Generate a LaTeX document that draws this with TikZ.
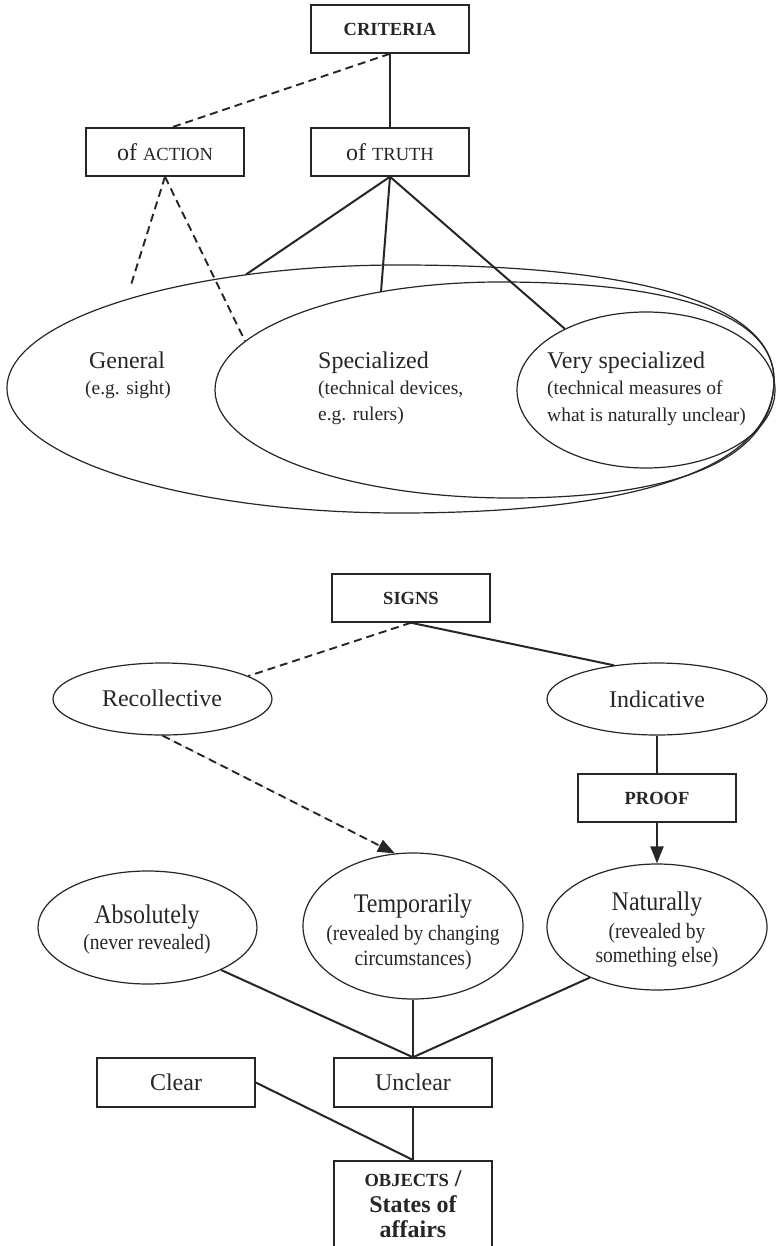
\documentclass[tikz,border=0pt]{standalone}
\usepackage{fontspec}
\setmainfont{Liberation Serif}
\usetikzlibrary{arrows.meta,shapes.geometric}
\newcommand\mainsz{\fontsize{24}{26}\selectfont}
\newcommand\subsz{\fontsize{19.5}{22}\selectfont}
\newcommand\scsz{\fontsize{18.5}{20}\selectfont}
\newcommand\tallt[1]{\scalebox{1}[1.12]{#1}}
\begin{document}
\begin{tikzpicture}[x=1pt,y=-1pt,
  box/.style={draw=black!85,line width=1.5pt,minimum width=158pt,minimum height=48pt,inner sep=0pt,font=\mainsz,text=black!85},
  oval/.style={draw=black!85,ellipse,line width=1.2pt,inner sep=0pt},
  ovalline/.style={draw=black!85,line width=1.2pt},
  conn/.style={draw=black!85,line width=2pt},
  dconn/.style={draw=black!85,line width=1.9pt,dash pattern=on 8pt off 5pt},
  arr/.style={-{Triangle[length=17pt,width=13pt]},fill=black!85},
  txt/.style={inner sep=0pt,anchor=base,font=\mainsz,text=black!85},
  stxt/.style={inner sep=0pt,anchor=base,font=\subsz,text=black!85},
  ]
\useasboundingbox (0,0) rectangle (776,1246);
\clip (0,0) rectangle (776,1246);
\fill[white] (0,0) rectangle (776,1246);

% ---------- upper diagram ----------
\node[box] (crit) at (390,29) {\scsz\bfseries CRITERIA};
\node[box] (truth) at (390,152) {of {\scsz TRUTH}};
\node[box] (action) at (165,152) {of {\scsz ACTION}};

% outer (General) oval
\draw[ovalline] (7,388) .. controls (7,320) and (183,265) .. (400,265)
  .. controls (643,265) and (774,305) .. (774,380)
  .. controls (774,466) and (643,513) .. (400,513)
  .. controls (183,513) and (7,457) .. (7,388) -- cycle;
% middle (Specialized) oval
\draw[ovalline] (215,390) .. controls (215,330) and (343,282) .. (500,282)
  .. controls (678,282) and (774,316) .. (774,380)
  .. controls (774,457) and (682,498) .. (510,498)
  .. controls (347,498) and (215,450) .. (215,390) -- cycle;
% inner (Very specialized) oval
\node[oval,minimum width=258pt,minimum height=156pt] (e3) at (646,390) {};

\coordinate (e1top) at (246,274.5);
\coordinate (e2top) at (381,292);
\coordinate (e2left) at (245,341);
\coordinate (actend) at (130,288);

\draw[conn] (crit.south) -- (truth.north);
\draw[dconn] (crit.south) -- ([xshift=7pt]action.north);
\draw[conn] (truth.south) -- (e1top);
\draw[conn] (truth.south) -- (e2top);
\draw[conn] (truth.south) -- (e3.143.5);
\draw[dconn] (action.south) -- (actend);
\draw[dconn] (action.south) -- (e2left);

\node[txt] (gen1) at (127,368) {General};
\node[stxt] (gen2) at (128,394) {(e.g. sight)};
\node[txt,anchor=base west] (spec1) at (318,368) {Specialized};
\node[stxt,anchor=base west] (spec2) at (318,394) {(technical devices,};
\node[stxt,anchor=base west] (spec3) at (318,420) {e.g. rulers)};
\node[txt,anchor=base west] (very1) at (547,368) {Very specialized};
\node[stxt,anchor=base west] (very2) at (547,394) {(technical measures of};
\node[stxt,anchor=base west] (very3) at (547,421) {what is naturally unclear)};

% ---------- lower diagram ----------
\node[box] (signs) at (411,598) {\scsz\bfseries SIGNS};
\node[oval,minimum width=219pt,minimum height=72pt] (recol) at (162.5,699) {};
\node[txt] (recolt) at (162,706) {Recollective};
\node[oval,minimum width=220pt,minimum height=72pt] (indic) at (657,699) {};
\node[txt] (indict) at (657,707) {Indicative};
\node[box] (proof) at (657,798) {\scsz\bfseries PROOF};

\node[oval,minimum width=219pt,minimum height=113pt] (abs) at (147.5,927.5) {};
\node[txt] (abs1) at (147,923) {\tallt{Absolutely}};
\node[stxt] (abs2) at (147,949) {\tallt{(never revealed)}};
\node[oval,minimum width=220pt,minimum height=146pt] (temp) at (413,926) {};
\node[txt] (temp1) at (413,912) {\tallt{Temporarily}};
\node[stxt] (temp2) at (413,940) {\tallt{(revealed by changing}};
\node[stxt] (temp3) at (413,965) {\tallt{circumstances)}};
\node[oval,minimum width=220pt,minimum height=126pt] (nat) at (657,927) {};
\node[txt] (nat1) at (657,910) {\tallt{Naturally}};
\node[stxt] (nat2) at (657,938) {\tallt{(revealed by}};
\node[stxt] (nat3) at (657,962) {\tallt{something else)}};

\node[box,minimum height=49pt] (clear) at (176,1082.5) {Clear};
\node[box,minimum height=49pt] (unclear) at (413,1082.5) {Unclear};
\node[box,minimum height=100pt,anchor=north] (obj) at (413,1160) {};
\node[txt] (obj1) at (413,1186) {\bfseries{\scsz OBJECTS} /};
\node[txt] (obj2) at (413,1212) {\bfseries States of};
\node[txt] (obj3) at (413,1237) {\bfseries affairs};

\draw[dconn] (signs.south) -- (recol.15);
\draw[conn] (signs.south) -- (indic.142);
\draw[conn] (indic.south) -- (proof.north);
\draw[conn,arr] (proof.south) -- (nat.north);
\draw[dconn,arr] (recol.south) -- (temp.104);
\draw[conn] (abs.-30) -- (unclear.north);
\draw[conn] (temp.south) -- (unclear.north);
\draw[conn] (nat.217) -- (unclear.north);
\draw[conn] (clear.east) -- (obj.north);
\draw[conn] (unclear.south) -- (obj.north);
\end{tikzpicture}
\end{document}
